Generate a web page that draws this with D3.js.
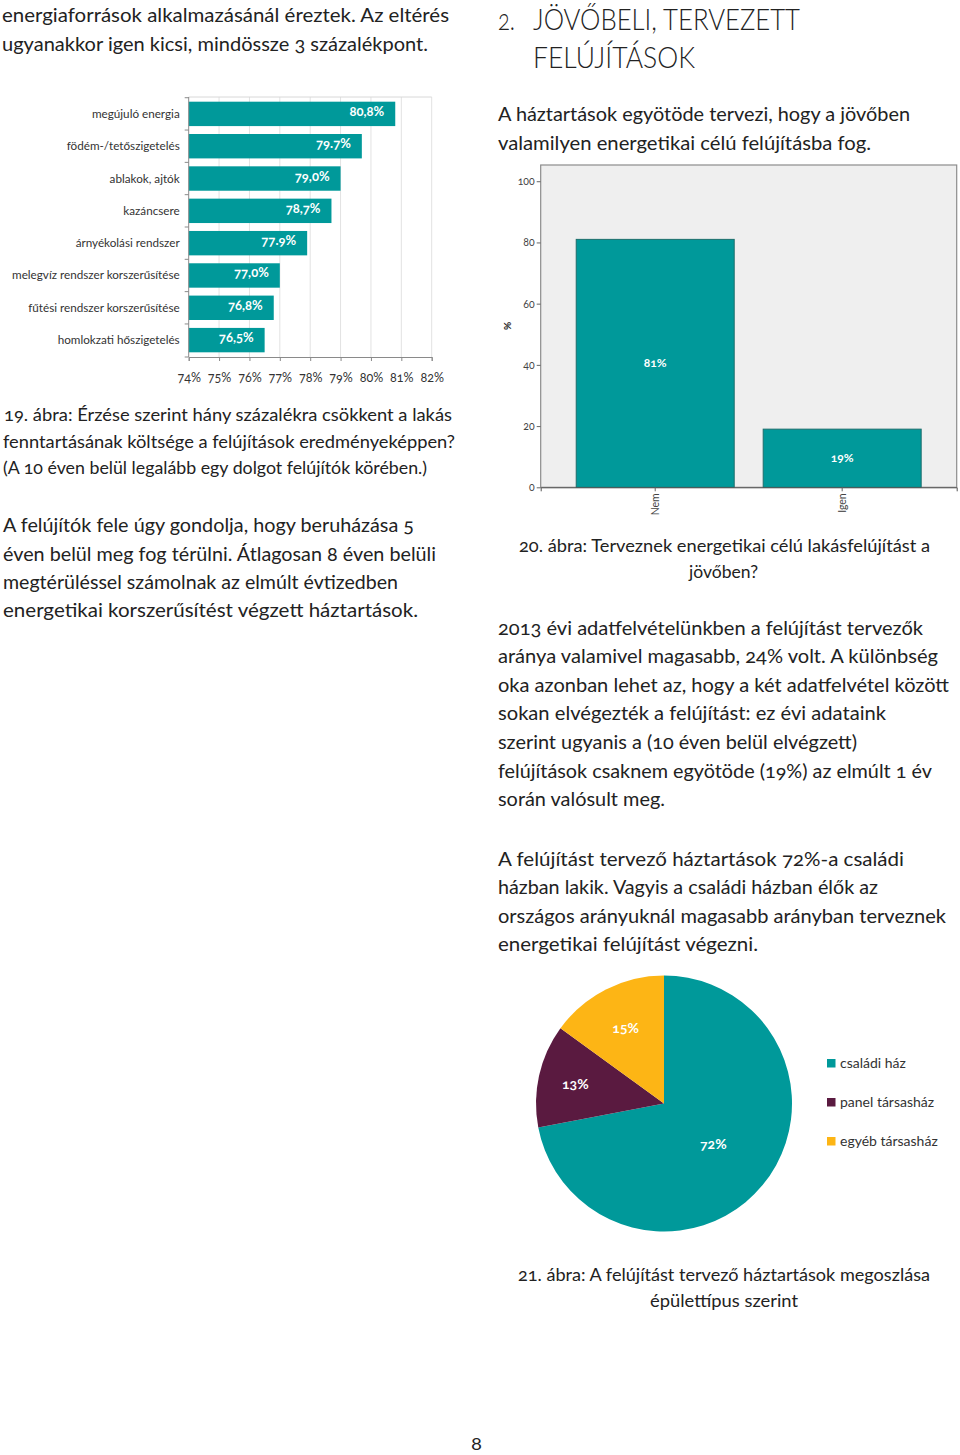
<!DOCTYPE html>
<html>
<head>
<meta charset="utf-8">
<title></title>
<style>
body { margin: 0; background: #fff; }
svg { display: block; font-family: Lato, "Open Sans", sans-serif; }
.num { font-variant-numeric: oldstyle-nums; }
</style>
</head>
<body>
<script src="https://d3js.org/d3.v7.min.js"></script>
<script>
// 19. ábra - csökkenés a felújítások után
var felujitasok = ["megújuló energia", "födém-/tetőszigetelés", "ablakok, ajtók", "kazáncsere",
    "árnyékolási rendszer", "melegvíz rendszer korszerűsítése", "fűtési rendszer korszerűsítése",
    "homlokzati hőszigetelés"];
var csokkenes = [80.8, 79.7, 79.0, 78.7, 77.9, 77.0, 76.8, 76.5];
var csokkenesCimke = ["80,8%", "79.7%", "79,0%", "78,7%", "77.9%", "77,0%", "76,8%", "76,5%"];
var szazalekTick = [74, 75, 76, 77, 78, 79, 80, 81, 82];

// 20. ábra - terveznek-e felújítást
var valasz = ["Nem", "Igen"];
var valaszErtek = [81, 19];
var valaszTick = [0, 20, 40, 60, 80, 100];

// 21. ábra - épülettípus
var epulet = ["családi ház", "panel társasház", "egyéb társasház"];
var epuletErtek = [72, 13, 15];

var teal = "#00999a", lila = "#5a1a40", sarga = "#fdb515";
var szin = d3.scaleOrdinal().domain(epulet).range([teal, lila, sarga]);

var svg = d3.select("body").append("svg").attr("width", 960).attr("height", 1455);

// ---- szövegek (sorok, kb. a kép szerinti szélességre húzva)
var sorok = [
    {x: 2, y: 22, s: 20, w: 447, t: "energiaforrások alkalmazásánál éreztek. Az eltérés"},
    {x: 2, y: 51, s: 20, w: 426, t: "ugyanakkor igen kicsi, mindössze 3 százalékpont."},
    {x: 498, y: 30, s: 30, w: 17, t: "2.", f: 300},
    {x: 533, y: 30, s: 30, w: 267, t: "JÖVŐBELI, TERVEZETT", f: 300},
    {x: 533, y: 68, s: 30, w: 162, t: "FELÚJÍTÁSOK", f: 300},
    {x: 498, y: 121, s: 20, w: 412, t: "A háztartások egyötöde tervezi, hogy a jövőben"},
    {x: 498, y: 150, s: 20, w: 373, t: "valamilyen energetikai célú felújításba fog."},

    {x: 4, y: 421, s: 18, w: 448, t: "19. ábra: Érzése szerint hány százalékra csökkent a lakás"},
    {x: 3, y: 448, s: 18, w: 452, t: "fenntartásának költsége a felújítások eredményeképpen?"},
    {x: 3, y: 474, s: 18, w: 424, t: "(A 10 éven belül legalább egy dolgot felújítók körében.)"},
    {x: 3, y: 532, s: 20, w: 411, t: "A felújítók fele úgy gondolja, hogy beruházása 5"},
    {x: 3, y: 561, s: 20, w: 433, t: "éven belül meg fog térülni. Átlagosan 8 éven belüli"},
    {x: 3, y: 589, s: 20, w: 395, t: "megtérüléssel számolnak az elmúlt évtizedben"},
    {x: 3, y: 617, s: 20, w: 415, t: "energetikai korszerűsítést végzett háztartások."},

    {x: 519, y: 552, s: 17, w: 411, t: "20. ábra: Terveznek energetikai célú lakásfelújítást a"},
    {x: 689, y: 578, s: 17, w: 69, t: "jövőben?"},
    {x: 498, y: 635, s: 20, w: 425, t: "2013 évi adatfelvételünkben a felújítást tervezők"},
    {x: 498, y: 663, s: 20, w: 440, t: "aránya valamivel magasabb, 24% volt. A különbség"},
    {x: 498, y: 692, s: 20, w: 451, t: "oka azonban lehet az, hogy a két adatfelvétel között"},
    {x: 498, y: 720, s: 20, w: 388, t: "sokan elvégezték a felújítást: ez évi adataink"},
    {x: 498, y: 749, s: 20, w: 359, t: "szerint ugyanis a (10 éven belül elvégzett)"},
    {x: 498, y: 778, s: 20, w: 434, t: "felújítások csaknem egyötöde (19%) az elmúlt 1 év"},
    {x: 498, y: 806, s: 20, w: 167, t: "során valósult meg."},
    {x: 498, y: 866, s: 20, w: 406, t: "A felújítást tervező háztartások 72%-a családi"},
    {x: 498, y: 894, s: 20, w: 380, t: "házban lakik. Vagyis a családi házban élők az"},
    {x: 498, y: 923, s: 20, w: 448, t: "országos arányuknál magasabb arányban terveznek"},
    {x: 498, y: 951, s: 20, w: 260, t: "energetikai felújítást végezni."},

    {x: 518, y: 1281, s: 17, w: 412, t: "21. ábra: A felújítást tervező háztartások megoszlása"},
    {x: 650, y: 1307, s: 17, w: 148, t: "épülettípus szerint"},
    {x: 471, y: 1450, s: 18, w: 11, t: "8"}
];

svg.append("g").selectAll("text")
    .data(sorok)
    .enter()
    .append("text")
    .attr("class", "num")
    .attr("x", function(d) { return d.x; })
    .attr("y", function(d) { return d.y; })
    .attr("font-size", function(d) { return d.s; })
    .attr("font-weight", function(d) { return d.f || 400; })
    .attr("textLength", function(d) { return d.w; })
    .attr("lengthAdjust", "spacingAndGlyphs")
    .attr("fill", "#222")
    .text(function(d) { return d.t; });

// ---- 19. ábra: vízszintes oszlopok
var h = {left: 188.7, right: 431.7, top: 97, bottom: 357};
var x1 = d3.scaleLinear().domain([74, 82]).range([h.left, h.right]);
var y1 = d3.scaleBand().domain(felujitasok).range([h.top, h.bottom])
    .paddingInner(0.245).paddingOuter(0.145);

var g1 = svg.append("g");

// rács
g1.selectAll("line.grid")
    .data(szazalekTick.slice(1))
    .enter()
    .append("line")
    .attr("x1", function(d) { return x1(d); })
    .attr("x2", function(d) { return x1(d); })
    .attr("y1", h.top).attr("y2", h.bottom)
    .attr("stroke", "#e2e2e2").attr("stroke-width", 1);
g1.append("line").attr("x1", h.left).attr("x2", h.right).attr("y1", h.top).attr("y2", h.top)
    .attr("stroke", "#d8d8d8");

g1.selectAll("rect")
    .data(csokkenes)
    .enter()
    .append("rect")
    .attr("x", x1(74))
    .attr("y", function(d, i) { return y1(felujitasok[i]); })
    .attr("width", function(d) { return x1(d) - x1(74); })
    .attr("height", y1.bandwidth())
    .attr("fill", teal);

g1.selectAll("text.ertek")
    .data(csokkenes)
    .enter()
    .append("text")
    .attr("class", "ertek num")
    .attr("x", function(d) { return x1(d) - 11; })
    .attr("y", function(d, i) { return y1(felujitasok[i]) + y1.bandwidth() / 2 + 2; })
    .attr("text-anchor", "end")
    .attr("font-size", 13)
    .attr("font-weight", 700)
    .attr("fill", "#fff")
    .text(function(d, i) { return csokkenesCimke[i]; });

g1.selectAll("text.kat")
    .data(felujitasok)
    .enter()
    .append("text")
    .attr("x", h.left - 9)
    .attr("y", function(d) { return y1(d) + y1.bandwidth() / 2 + 4; })
    .attr("text-anchor", "end")
    .attr("font-size", 11.7)
    .attr("fill", "#333")
    .text(function(d) { return d; });

// bal tengely, jelek a sávhatárokon
var hatar = felujitasok.map(function(d) { return y1(d) - y1.step() * y1.paddingInner() / 2; });
hatar.push(h.bottom);
g1.append("line").attr("x1", h.left).attr("x2", h.left).attr("y1", h.top).attr("y2", h.bottom)
    .attr("stroke", "#8a8a8a");
g1.selectAll("line.bt")
    .data(hatar)
    .enter()
    .append("line")
    .attr("x1", h.left - 4).attr("x2", h.left)
    .attr("y1", function(d) { return d; }).attr("y2", function(d) { return d; })
    .attr("stroke", "#8a8a8a");

var ax1 = g1.append("g")
    .attr("transform", "translate(0," + h.bottom + ")")
    .call(d3.axisBottom(x1).tickValues(szazalekTick).tickSize(4).tickPadding(12)
        .tickFormat(function(d) { return d + "%"; }));
ax1.select(".domain").attr("stroke", "#8a8a8a");
ax1.selectAll(".tick line").attr("stroke", "#8a8a8a");
ax1.selectAll("text").attr("class", "num").attr("font-family", "Lato, 'Open Sans', sans-serif")
    .attr("font-size", 12.5).attr("fill", "#333");

// ---- 20. ábra: függőleges oszlopok
var v = {left: 540.7, right: 956.7, top: 165, bottom: 487.3};
var y2 = d3.scaleLinear().domain([0, 105.3]).range([v.bottom, v.top]);
var x2 = d3.scaleBand().domain(valasz).range([v.left, v.right]).paddingInner(0.155).paddingOuter(0.19);

var g2 = svg.append("g");
g2.append("rect")
    .attr("x", v.left).attr("y", v.top)
    .attr("width", v.right - v.left).attr("height", v.bottom - v.top)
    .attr("fill", "#efefef").attr("stroke", "#8c8c8c").attr("stroke-width", 1.2);

g2.selectAll("rect.bar")
    .data(valaszErtek)
    .enter()
    .append("rect")
    .attr("class", "bar")
    .attr("x", function(d, i) { return x2(valasz[i]); })
    .attr("y", function(d) { return y2(d); })
    .attr("width", x2.bandwidth())
    .attr("height", function(d) { return y2(0) - y2(d); })
    .attr("fill", teal)
    .attr("stroke", "#1d6e6c").attr("stroke-width", 1);

g2.selectAll("text.ertek")
    .data(valaszErtek)
    .enter()
    .append("text")
    .attr("class", "num")
    .attr("x", function(d, i) { return x2(valasz[i]) + x2.bandwidth() / 2; })
    .attr("y", function(d) { return (y2(d) + y2(0)) / 2 + 4; })
    .attr("text-anchor", "middle")
    .attr("font-size", 12)
    .attr("font-weight", 700)
    .attr("fill", "#fff")
    .text(function(d) { return d + "%"; });

var ax2 = g2.append("g")
    .attr("transform", "translate(" + v.left + ",0)")
    .call(d3.axisLeft(y2).tickValues(valaszTick).tickSize(4).tickPadding(2));
ax2.select(".domain").remove();
ax2.selectAll(".tick line").attr("stroke", "#666");
ax2.selectAll("text").attr("class", "num").attr("font-family", "Lato, 'Open Sans', sans-serif")
    .attr("font-size", 10.5).attr("fill", "#444");

var ax3 = g2.append("g")
    .attr("transform", "translate(0," + v.bottom + ")")
    .call(d3.axisBottom(x2).tickSize(4).tickPadding(3));
ax3.select(".domain").attr("stroke", "#555");
ax3.selectAll(".tick line").attr("stroke", "#666");
ax3.selectAll("text")
    .attr("font-family", "Lato, 'Open Sans', sans-serif")
    .attr("font-size", 10.5).attr("fill", "#444")
    .attr("transform", "rotate(-90)")
    .attr("text-anchor", "end")
    .attr("x", -6).attr("y", 0).attr("dy", "0.35em");

g2.append("text")
    .attr("transform", "translate(511,326) rotate(-90)")
    .attr("text-anchor", "middle")
    .attr("font-size", 10)
    .attr("font-weight", 700)
    .attr("fill", "#222")
    .text("%");

// ---- 21. ábra: kör
var cx = 664, cy = 1103.5, R = 128;
var cimkeSugar = [0.5, 0.71, 0.66];
var pie = d3.pie().sort(null).value(function(d) { return d; });
var arc = d3.arc().innerRadius(0).outerRadius(R);
var g3 = svg.append("g").attr("transform", "translate(" + cx + "," + cy + ")");
var szeletek = pie(epuletErtek);

g3.selectAll("path")
    .data(szeletek)
    .enter()
    .append("path")
    .attr("d", arc)
    .attr("fill", function(d, i) { return szin(epulet[i]); });

g3.selectAll("text")
    .data(szeletek)
    .enter()
    .append("text")
    .attr("class", "num")
    .attr("transform", function(d, i) {
        var r = R * cimkeSugar[i];
        var c = d3.arc().innerRadius(r).outerRadius(r).centroid(d);
        return "translate(" + c + ")";
    })
    .attr("text-anchor", "middle")
    .attr("dy", "0.35em")
    .attr("font-size", 14)
    .attr("font-weight", 700)
    .attr("fill", "#fff")
    .text(function(d) { return d.data + "%"; });

var leg = svg.append("g").attr("transform", "translate(827,1063)");
var legSor = leg.selectAll("g")
    .data(epulet)
    .enter()
    .append("g")
    .attr("transform", function(d, i) { return "translate(0," + i * 39 + ")"; });
legSor.append("rect")
    .attr("x", 0).attr("y", -4)
    .attr("width", 8.5).attr("height", 8.5)
    .attr("fill", function(d) { return szin(d); });
legSor.append("text")
    .attr("x", 13).attr("y", 4.5)
    .attr("font-size", 14)
    .attr("fill", "#333")
    .text(function(d) { return d; });
</script>
</body>
</html>
